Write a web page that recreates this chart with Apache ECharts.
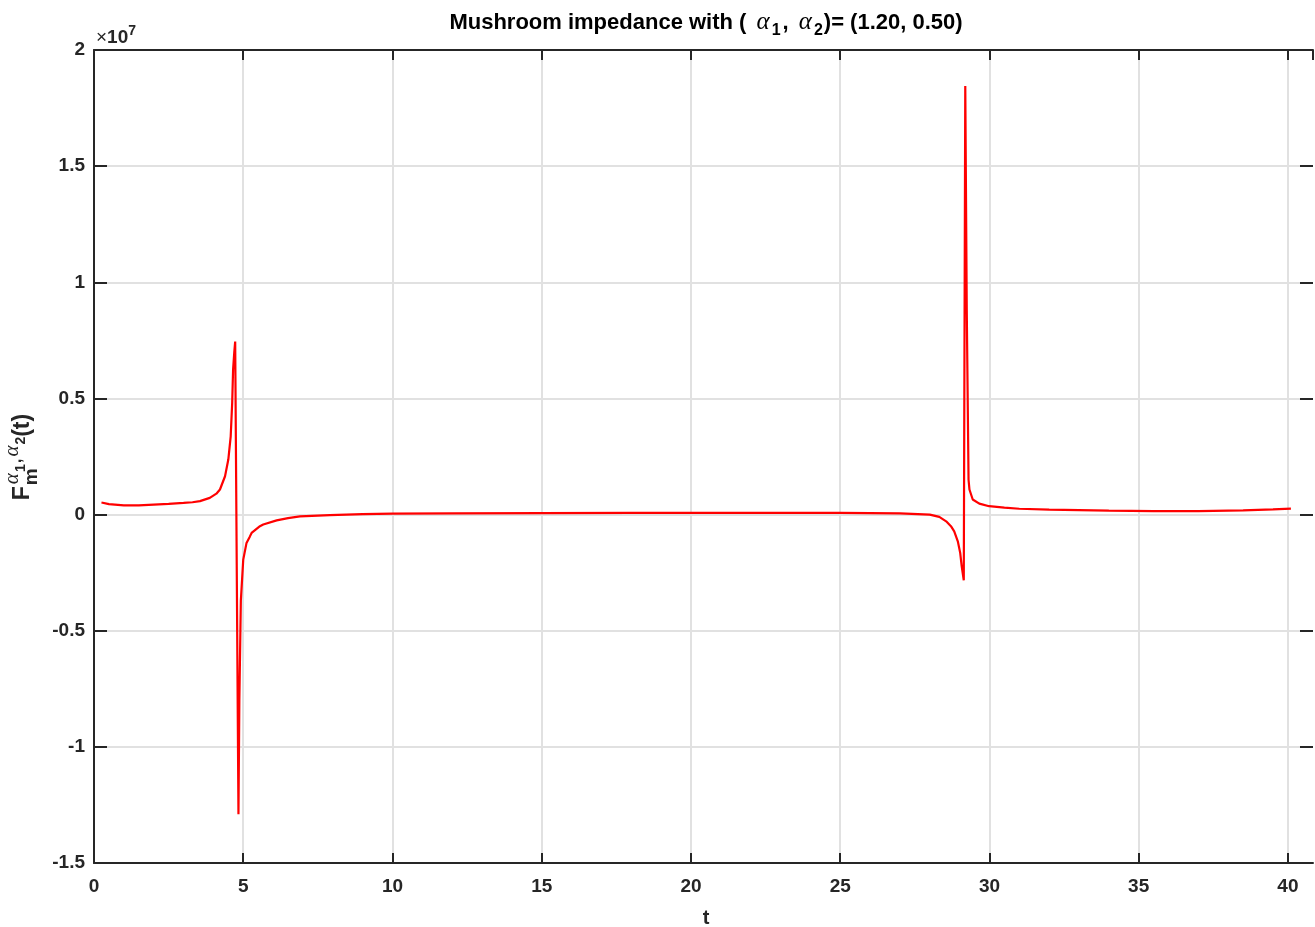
<!DOCTYPE html>
<html>
<head>
<meta charset="utf-8">
<title>Mushroom impedance</title>
<script src="https://cdn.jsdelivr.net/npm/echarts@6/dist/echarts.min.js"></script>
<style>
  html, body { margin: 0; padding: 0; background: #ffffff; }
  #chart { width: 1315px; height: 927px; }
</style>
</head>
<body>
<div id="chart"></div>
<script>
// Time samples t and impedance values (in units of 1e7, see the axis multiplier)
const tValues = [
  0.25, 0.5, 1.0, 1.5, 2.0, 2.5, 3.0, 3.3, 3.55, 3.88,
  4.1, 4.22, 4.39, 4.5, 4.58, 4.63, 4.66, 4.70, 4.73, 4.84,
  4.87, 4.92, 5.0, 5.11, 5.22, 5.28, 5.56, 5.67, 6.12, 6.5,
  6.9, 7.9, 9, 10, 12, 15, 18, 20, 22, 25,
  26, 27, 28, 28.32, 28.55, 28.71, 28.82, 28.94, 29.02, 29.07,
  29.14, 29.19, 29.24, 29.3, 29.33, 29.44, 29.66, 29.99, 30.5, 31,
  32, 33, 34, 35.5, 37, 38.5, 39.5, 40.1
];
const impedanceE7 = [
  0.052, 0.045, 0.040, 0.040, 0.043, 0.046, 0.050, 0.053, 0.058, 0.072,
  0.090, 0.108, 0.165, 0.237, 0.337, 0.482, 0.624, 0.700, 0.745, -1.29,
  -0.80, -0.37, -0.194, -0.122, -0.095, -0.079, -0.050, -0.043, -0.025, -0.015,
  -0.008, -0.002, 0.002, 0.004, 0.005, 0.006, 0.007, 0.007, 0.007, 0.007,
  0.006, 0.005, 0.0, -0.010, -0.029, -0.050, -0.072, -0.115, -0.165, -0.222,
  -0.283, 1.845, 0.88, 0.15, 0.108, 0.065, 0.047, 0.036, 0.030, 0.025,
  0.021, 0.019, 0.017, 0.015, 0.015, 0.018, 0.022, 0.026
];
const xTicks = [0, 5, 10, 15, 20, 25, 30, 35, 40];
const yTicks = [-1.5, -1, -0.5, 0, 0.5, 1, 1.5, 2];
const alphaPair = ['1.20', '0.50'];

const AXIS_COLOR = '#262626';
const SANS = '"Liberation Sans", Arial, Helvetica, sans-serif';
const SERIF = '"Liberation Serif", "Times New Roman", serif';

const seriesData = tValues.map((t, i) => [t, impedanceE7[i]]);

// Lay out a run of differently sized text pieces on a shared baseline.
const measureCtx = document.createElement('canvas').getContext('2d');
function textRun(pieces, color) {
  let x = 0;
  const items = [];
  pieces.forEach(p => {
    const font = (p.style || '') + ' ' + (p.weight || 'normal') + ' ' + p.size + 'px ' + p.family;
    measureCtx.font = font;
    const w = measureCtx.measureText(p.text).width;
    const px = x + (p.dx || 0);
    items.push({ x: px, y: (p.dy || 0) - 0.31 * p.size, text: p.text, font: font });
    if (!p.stack) x = px + w;
  });
  const total = x;
  return {
    width: total,
    children: items.map(it => ({
      type: 'text',
      x: it.x - total / 2,
      y: it.y,
      silent: true,
      style: {
        text: it.text, font: it.font, fill: color,
        align: 'left', textAlign: 'left',
        verticalAlign: 'middle', textVerticalAlign: 'middle'
      }
    }))
  };
}

const titleRun = textRun([
  { text: 'Mushroom impedance with ( ', size: 22, weight: 'bold', family: SANS },
  { text: '\u03B1', size: 25, style: 'italic', family: SERIF, dx: 4 },
  { text: '1', size: 16, weight: 'bold', family: SANS, dy: 6, dx: 2 },
  { text: ', ', size: 22, weight: 'bold', family: SANS, dx: 2 },
  { text: '\u03B1', size: 25, style: 'italic', family: SERIF, dx: 4 },
  { text: '2', size: 16, weight: 'bold', family: SANS, dy: 6, dx: 2 },
  { text: ')= (' + alphaPair[0] + ', ' + alphaPair[1] + ')', size: 22, weight: 'bold', family: SANS, dx: 1 }
], '#000000');

const yNameRun = textRun([
  { text: 'F', size: 23, weight: 'bold', family: SANS },
  { text: 'm', size: 19, weight: 'bold', family: SANS, dy: 8, dx: 1, stack: true },
  { text: '\u03B1', size: 21, style: 'italic', family: SERIF, dy: -11, dx: 2 },
  { text: '1', size: 14, weight: 'bold', family: SANS, dy: -5, dx: 1 },
  { text: ',', size: 17, weight: 'bold', family: SANS, dy: -8, dx: 1 },
  { text: '\u03B1', size: 21, style: 'italic', family: SERIF, dy: -11, dx: 2 },
  { text: '2', size: 14, weight: 'bold', family: SANS, dy: -5, dx: 1 },
  { text: '(t)', size: 23, weight: 'bold', family: SANS }
], AXIS_COLOR);

const multRun = textRun([
  { text: '\u00D7', size: 19, family: SANS },
  { text: '10', size: 19, weight: 'bold', family: SANS },
  { text: '7', size: 14, weight: 'bold', family: SANS, dy: -9 }
], AXIS_COLOR);

const tickLabelStyle = {
  color: AXIS_COLOR, fontFamily: SANS, fontWeight: 'bold', fontSize: 19
};
const axisLineStyle = { color: AXIS_COLOR, width: 2 };
const gridLineStyle = { color: '#e1e1e1', width: 2 };

const X_MAX = 40.84;

function xAxisDef(position, primary) {
  return {
    type: 'value', position: position, min: 0, max: X_MAX, interval: 5,
    axisLine: { show: true, onZero: false, lineStyle: axisLineStyle },
    axisTick: { show: true, inside: true, length: 10, lineStyle: axisLineStyle },
    axisLabel: primary ? Object.assign({
      margin: 14,
      showMaxLabel: false,
      formatter: v => (xTicks.indexOf(v) >= 0 ? String(v) : '')
    }, tickLabelStyle) : { show: false },
    splitLine: { show: primary, showMaxLine: false, lineStyle: gridLineStyle }
  };
}
function yAxisDef(position, primary) {
  return {
    type: 'value', position: position, min: -1.5, max: 2, interval: 0.5,
    axisLine: { show: primary, onZero: false, lineStyle: axisLineStyle },
    axisTick: { show: true, inside: true, length: 13, lineStyle: axisLineStyle },
    axisLabel: primary ? Object.assign({
      margin: 9,
      formatter: v => (yTicks.indexOf(v) >= 0 ? String(v) : '')
    }, tickLabelStyle) : { show: false },
    splitLine: { show: primary, lineStyle: gridLineStyle }
  };
}

const chart = echarts.init(document.getElementById('chart'), null, { renderer: 'canvas' });
chart.setOption({
  animation: false,
  backgroundColor: '#ffffff',
  grid: { left: 94, top: 50, right: 2, bottom: 64, containLabel: false },
  xAxis: [xAxisDef('bottom', true), xAxisDef('top', false)],
  yAxis: [yAxisDef('left', true), yAxisDef('right', false)],
  series: [{
    type: 'line',
    xAxisIndex: 0, yAxisIndex: 0,
    data: seriesData,
    showSymbol: false,
    symbol: 'none',
    clip: true,
    silent: true,
    lineStyle: { color: '#ff0000', width: 2.2 },
    itemStyle: { color: '#ff0000' }
  }],
  graphic: [
    { type: 'group', x: 706, y: 30, children: titleRun.children },
    { type: 'group', x: 30, y: 457, rotation: Math.PI / 2, children: yNameRun.children },
    { type: 'group', x: 96 + multRun.width / 2, y: 44, children: multRun.children },
    {
      type: 'text', x: 706, y: 918, silent: true,
      style: {
        text: 't', font: 'bold 20px ' + SANS, fill: AXIS_COLOR,
        align: 'center', textAlign: 'center',
        verticalAlign: 'middle', textVerticalAlign: 'middle'
      }
    }
  ]
});
</script>
</body>
</html>
